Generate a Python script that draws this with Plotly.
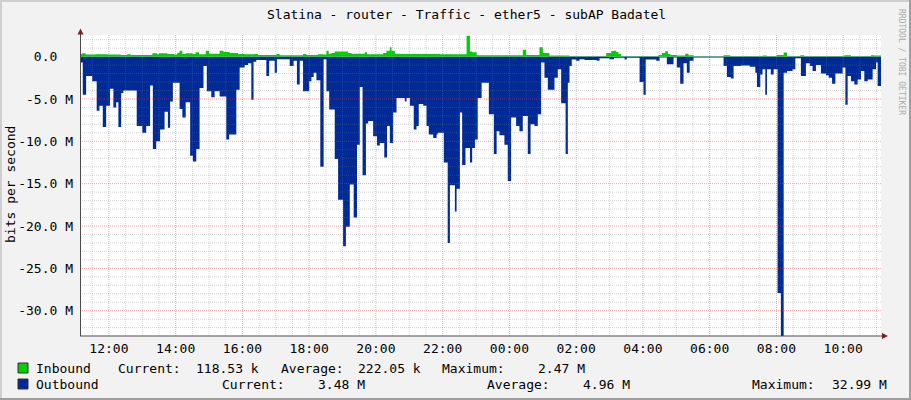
import plotly.graph_objects as go
from datetime import datetime, timedelta

# ---------------- data (Mbit/s, times HH:MM, window 11:08 -> 11:08 next day) ----------------
START = "11:08"

OUT_TIMES = [
    "11:08", "11:13", "11:19", "11:30", "11:38", "11:43", "11:49", "11:55", "12:02", "12:08",
    "12:13", "12:17", "12:22", "12:26", "12:50", "13:00", "13:07", "13:14", "13:19", "13:25",
    "13:32", "13:40", "13:46", "13:50", "13:55", "14:07", "14:12", "14:18", "14:26", "14:31",
    "14:37", "14:43", "14:50", "14:56", "15:04", "15:10", "15:19", "15:31", "15:36", "15:49",
    "15:55", "16:04", "16:10", "16:16", "16:20", "16:25", "16:43", "16:48", "16:58", "17:02",
    "17:25", "17:32", "17:38", "17:43", "17:49", "18:00", "18:04", "18:08", "18:13", "18:20",
    "18:26", "18:31", "18:36", "18:46", "18:52", "19:01", "19:06", "19:13", "19:20", "19:26",
    "19:31", "19:36", "19:42", "19:46", "19:55", "20:02", "20:07", "20:15", "20:20", "20:25",
    "20:31", "20:37", "20:52", "20:55", "21:01", "21:08", "21:13", "21:17", "21:25", "21:31",
    "21:35", "21:43", "21:49", "21:51", "22:02", "22:09", "22:13", "22:22", "22:25", "22:31",
    "22:35", "22:41", "22:49", "22:53", "22:58", "23:03", "23:10", "23:23", "23:32", "23:37",
    "23:42", "23:51", "23:57", "00:03", "00:12", "00:18", "00:24", "00:33", "00:38", "00:45",
    "00:51", "00:57", "01:03", "01:09", "01:21", "01:27", "01:33", "01:41", "01:45", "01:48",
    "01:52", "02:00", "02:06", "02:15", "02:37", "02:42", "03:00", "03:08", "03:27", "03:31",
    "03:54", "04:01", "04:05", "04:24", "04:30", "04:43", "04:55", "05:01", "05:07", "05:13",
    "05:19", "05:24", "05:31", "06:25", "06:31", "06:38", "06:43", "06:56", "07:12", "07:22",
    "07:25", "07:31", "07:35", "07:40", "07:43", "07:50", "07:55", "08:02", "08:08", "08:13",
    "08:19", "08:29", "08:34", "08:44", "08:53", "09:00", "09:05", "09:11", "09:20", "09:29",
    "09:34", "09:40", "09:46", "09:59", "10:04", "10:08", "10:14", "10:20", "10:26", "10:32",
    "10:38", "10:44", "10:53", "10:59", "11:02",
]
OUT_VALUES = [
    -0.7, -4.5, -2.3, -2.9, -6.4, -5.8, -8.3, -5.8, -3.8, -6.0,
    -5.4, -8.3, -4.3, -4.0, -8.2, -9.0, -8.2, -3.4, -10.9, -10.0,
    -8.6, -6.5, -8.4, -5.3, -3.1, -6.2, -7.2, -5.4, -11.7, -12.4,
    -10.9, -3.7, -1.1, -4.1, -4.8, -4.1, -4.7, -9.8, -9.2, -3.9,
    -1.3, -1.0, -0.8, -5.1, -0.6, -0.4, -2.3, -0.5, -1.9, -0.3,
    -1.1, -0.5, -3.3, -0.5, -4.1, -2.9, -2.4, -1.9, -2.8, -13.0,
    -0.3, -4.1, -6.25, -12.1, -16.9, -22.4, -20.1, -15.1, -19.0, -10.4,
    -3.6, -14.0, -7.9, -7.6, -9.4, -10.5, -10.2, -11.9, -8.2, -10.2,
    -6.6, -4.9, -5.3, -4.9, -5.8, -8.6, -8.2, -5.6, -5.8, -8.2,
    -9.2, -9.6, -9.2, -9.0, -12.5, -22.0, -15.2, -18.3, -15.6, -6.6,
    -12.8, -10.8, -12.5, -10.8, -9.8, -4.9, -3.1, -6.8, -11.5, -8.8,
    -9.3, -10.4, -14.7, -7.2, -8.2, -8.8, -7.0, -11.5, -8.0, -8.2,
    -6.8, -0.7, -2.5, -3.9, -2.5, -1.5, -5.5, -11.5, -3.1, -1.1,
    -0.35, -0.5, -0.3, -0.4, -0.5, -0.2, -0.3, -0.15, -0.35, -0.15,
    -3.0, -4.5, -0.35, -0.5, -0.12, -0.9, -0.12, -1.3, -3.2, -0.8,
    -1.9, -0.5, -0.12, -1.1, -2.4, -2.6, -1.1, -1.05, -1.2, -1.9,
    -3.6, -2.1, -1.5, -4.5, -1.5, -2.1, -1.5, -27.9, -32.99, -1.9,
    -1.7, -1.5, -0.2, -2.3, -0.8, -1.1, -1.7, -1.0, -2.0, -2.2,
    -2.5, -3.2, -2.0, -1.3, -5.7, -2.3, -2.9, -3.3, -2.7, -1.7,
    -2.9, -2.7, -1.5, -0.7, -3.48,
]

IN_TIMES = [
    "11:08", "11:12", "11:18", "11:36", "11:57", "12:21", "12:33", "12:39", "13:18", "13:27",
    "13:30", "13:45", "13:57", "14:03", "14:07", "14:12", "14:18", "14:30", "14:36", "14:42",
    "14:54", "15:00", "15:19", "15:26", "15:37", "15:52", "16:04", "16:22", "16:28", "17:01",
    "17:07", "17:49", "17:55", "18:16", "18:25", "18:31", "18:35", "18:40", "18:46", "19:10",
    "19:16", "19:40", "19:44", "20:13", "20:19", "20:25", "20:28", "20:34", "20:43", "21:55",
    "22:43", "22:49", "22:53", "23:01", "00:24", "00:30", "00:54", "01:00", "01:12", "01:48",
    "02:54", "03:03", "03:08", "03:12", "03:16", "03:21", "04:28", "04:34", "04:40", "04:45",
    "04:49", "05:01", "05:16", "05:22", "05:31", "06:25", "06:37", "07:35", "07:43", "08:01",
    "08:13", "08:19", "08:43", "08:50", "10:02", "10:14", "10:50", "10:56",
]
IN_VALUES = [
    0.3, 0.4, 0.25, 0.28, 0.25, 0.2, 0.28, 0.2, 0.4, 0.28,
    0.4, 0.32, 0.25, 0.45, 0.7, 0.32, 0.4, 0.32, 0.5, 0.28,
    0.7, 0.35, 0.7, 0.55, 0.43, 0.32, 0.28, 0.32, 0.2, 0.32,
    0.15, 0.32, 0.2, 0.28, 0.24, 0.7, 0.35, 0.43, 0.6, 0.43,
    0.35, 0.5, 0.28, 0.43, 0.7, 1.1, 0.7, 0.35, 0.3, 0.28,
    2.47, 0.6, 0.5, 0.15, 0.8, 0.2, 1.1, 0.43, 0.12, 0.03,
    0.43, 0.67, 0.7, 0.55, 0.32, 0.03, 0.2, 0.43, 0.63, 0.32,
    0.2, 0.12, 0.35, 0.15, 0.03, 0.15, 0.03, 0.12, 0.03, 0.2,
    0.47, 0.03, 0.15, 0.03, 0.15, 0.03, 0.15, 0.12,
]

Y_TICKS = [0, -5, -10, -15, -20, -25, -30]
Y_TICK_TEXT = ["0.0\u00a0\u00a0", "-5.0 M", "-10.0 M", "-15.0 M", "-20.0 M", "-25.0 M", "-30.0 M"]
Y_RANGE = [-32.99, 2.55]

TITLE = "Slatina - router - Traffic - ether5 - subAP Badatel"
Y_TITLE = "bits per second"
WATERMARK = "RRDTOOL / TOBI OETIKER"
LEGEND_ROW1 = [("Inbound", 34), ("Current:", 116), ("118.53 k", 194), ("Average:", 279),
               ("222.05 k", 356), ("Maximum:", 440), ("2.47 M", 536)]
LEGEND_ROW2 = [("Outbound", 34), ("Current:", 220), ("3.48 M", 316), ("Average:", 485),
               ("4.96 M", 581), ("Maximum:", 750), ("32.99 M", 830)]

IN_COLOR = "#00CF00"
OUT_COLOR = "#002A97"

# ---------------- helpers ----------------
DAY0 = datetime(2024, 5, 13)


def to_dt(times):
    out, day, prev = [], 0, None
    for t in times:
        h, m = map(int, t.split(":"))
        mins = h * 60 + m
        if prev is not None and mins < prev:
            day += 1
        prev = mins
        out.append(DAY0 + timedelta(days=day, minutes=mins))
    return out


t_start = to_dt([START])[0]
t_end = t_start + timedelta(days=1)

out_x = to_dt(OUT_TIMES) + [t_end]
out_y = OUT_VALUES + [OUT_VALUES[-1]]
in_x = to_dt(IN_TIMES) + [t_end]
in_y = IN_VALUES + [IN_VALUES[-1]]

W, H = 911, 400
ML, MR, MT, MB = 80, 30, 35, 64
PW, PH = W - ML - MR, H - MT - MB


def px(x):
    return (x - ML) / PW


def py(y):
    return (H - MB - y) / PH


FONT = "DejaVu Sans Mono"
FS = 13

fig = go.Figure()
fig.add_trace(go.Scatter(x=out_x, y=out_y, mode="lines", line=dict(width=0, shape="hv"),
                         fill="tozeroy", fillcolor=OUT_COLOR, hoverinfo="skip", showlegend=False))
fig.add_trace(go.Scatter(x=in_x, y=in_y, mode="lines", line=dict(width=0, shape="hv"),
                         fill="tozeroy", fillcolor=IN_COLOR, hoverinfo="skip", showlegend=False))

shapes = []
# grid (drawn above the areas, semi-transparent, like rrdtool)
GRID_MINOR = "rgba(120,120,120,0.32)"
GRID_MAJOR = "rgba(230,60,60,0.45)"
t = DAY0
while t <= t_end + timedelta(hours=1):
    if t_start < t < t_end:
        major = (t.minute == 0 and t.hour % 2 == 0)
        shapes.append(dict(type="line", xref="x", yref="paper", x0=t, x1=t, y0=0, y1=1,
                           line=dict(color=GRID_MAJOR if major else GRID_MINOR, width=1, dash="1px,1px"),
                           layer="above"))
    t += timedelta(minutes=30)
for v in range(-32, 3):
    if v == 0:
        continue
    major = v % 5 == 0
    shapes.append(dict(type="line", xref="paper", yref="y", x0=0, x1=1, y0=v, y1=v,
                       line=dict(color=GRID_MAJOR if major else GRID_MINOR, width=1, dash="1px,1px"),
                       layer="above"))

AXIS = "#4A4A4A"
ARROW = "#7F1F1F"
# axes lines
shapes.append(dict(type="line", xref="paper", yref="paper", x0=px(80.5), x1=px(80.5), y0=py(336), y1=py(31),
                   line=dict(color=AXIS, width=1), layer="above"))
shapes.append(dict(type="line", xref="paper", yref="paper", x0=px(80), x1=px(885), y0=py(336), y1=py(336),
                   line=dict(color=AXIS, width=1), layer="above"))
# arrows
shapes.append(dict(type="path", xref="paper", yref="paper",
                   path=f"M {px(77.5)} {py(34.5)} L {px(83.5)} {py(34.5)} L {px(80.5)} {py(28.5)} Z",
                   fillcolor=ARROW, line=dict(width=0), layer="above"))
shapes.append(dict(type="path", xref="paper", yref="paper",
                   path=f"M {px(882)} {py(333)} L {px(882)} {py(339)} L {px(888)} {py(336)} Z",
                   fillcolor=ARROW, line=dict(width=0), layer="above"))
# legend boxes
for (ytop, col) in [(363, IN_COLOR), (379, OUT_COLOR)]:
    shapes.append(dict(type="rect", xref="paper", yref="paper", x0=px(18), x1=px(28), y0=py(ytop + 10), y1=py(ytop),
                       fillcolor=col, line=dict(color="#333333", width=1)))
# image frame
shapes.append(dict(type="line", xref="paper", yref="paper", x0=px(0), x1=px(W), y0=py(1), y1=py(1),
                   line=dict(color="#CFCFCF", width=2)))
shapes.append(dict(type="line", xref="paper", yref="paper", x0=px(1), x1=px(1), y0=py(0), y1=py(H),
                   line=dict(color="#CFCFCF", width=2)))
shapes.append(dict(type="line", xref="paper", yref="paper", x0=px(0), x1=px(W), y0=py(H - 1), y1=py(H - 1),
                   line=dict(color="#9E9E9E", width=2)))
shapes.append(dict(type="line", xref="paper", yref="paper", x0=px(W - 1), x1=px(W - 1), y0=py(0), y1=py(H),
                   line=dict(color="#9E9E9E", width=2)))

annotations = [
    dict(text=TITLE, x=px(466.5), y=py(14), xref="paper", yref="paper", showarrow=False,
         xanchor="center", yanchor="middle", font=dict(family=FONT, size=FS, color="#000000")),
    dict(text=Y_TITLE, x=px(10), y=py(185), xref="paper", yref="paper", showarrow=False, textangle=-90,
         xanchor="center", yanchor="middle", font=dict(family=FONT, size=FS, color="#000000")),
    dict(text=WATERMARK, x=px(902), y=py(62), xref="paper", yref="paper", showarrow=False,
         textangle=90, xanchor="center", yanchor="middle", font=dict(family=FONT, size=8, color="#ABABAB")),
]
for row, yc in [(LEGEND_ROW1, 368), (LEGEND_ROW2, 384)]:
    for txt, xl in row:
        annotations.append(dict(text=txt, x=px(xl), y=py(yc), xref="paper", yref="paper", showarrow=False,
                                xanchor="left", yanchor="middle", font=dict(family=FONT, size=FS, color="#000000")))

fig.update_layout(
    width=W, height=H,
    margin=dict(l=ML, r=MR, t=MT, b=MB, autoexpand=False),
    paper_bgcolor="#F2F2F2", plot_bgcolor="#FFFFFF",
    showlegend=False,
    shapes=shapes, annotations=annotations,
    font=dict(family=FONT, size=FS, color="#000000"),
    xaxis=dict(type="date", range=[t_start, t_end], showgrid=False, zeroline=False, showline=False,
               tickformat="%H:%M", dtick=2 * 3600 * 1000, tick0=DAY0, ticks="", ticklabelstandoff=3,
               automargin=False,
               tickfont=dict(family=FONT, size=FS, color="#000000"), fixedrange=True),
    yaxis=dict(range=Y_RANGE, showgrid=False, zeroline=False, showline=False, tickmode="array",
               tickvals=Y_TICKS, ticktext=Y_TICK_TEXT, ticks="", ticklabelstandoff=6, automargin=False,
               tickfont=dict(family=FONT, size=FS, color="#000000"), fixedrange=True),
)

fig.write_html("out.html", config={"displayModeBar": False},
               post_script="document.body.style.margin='0';document.body.style.padding='0';")
